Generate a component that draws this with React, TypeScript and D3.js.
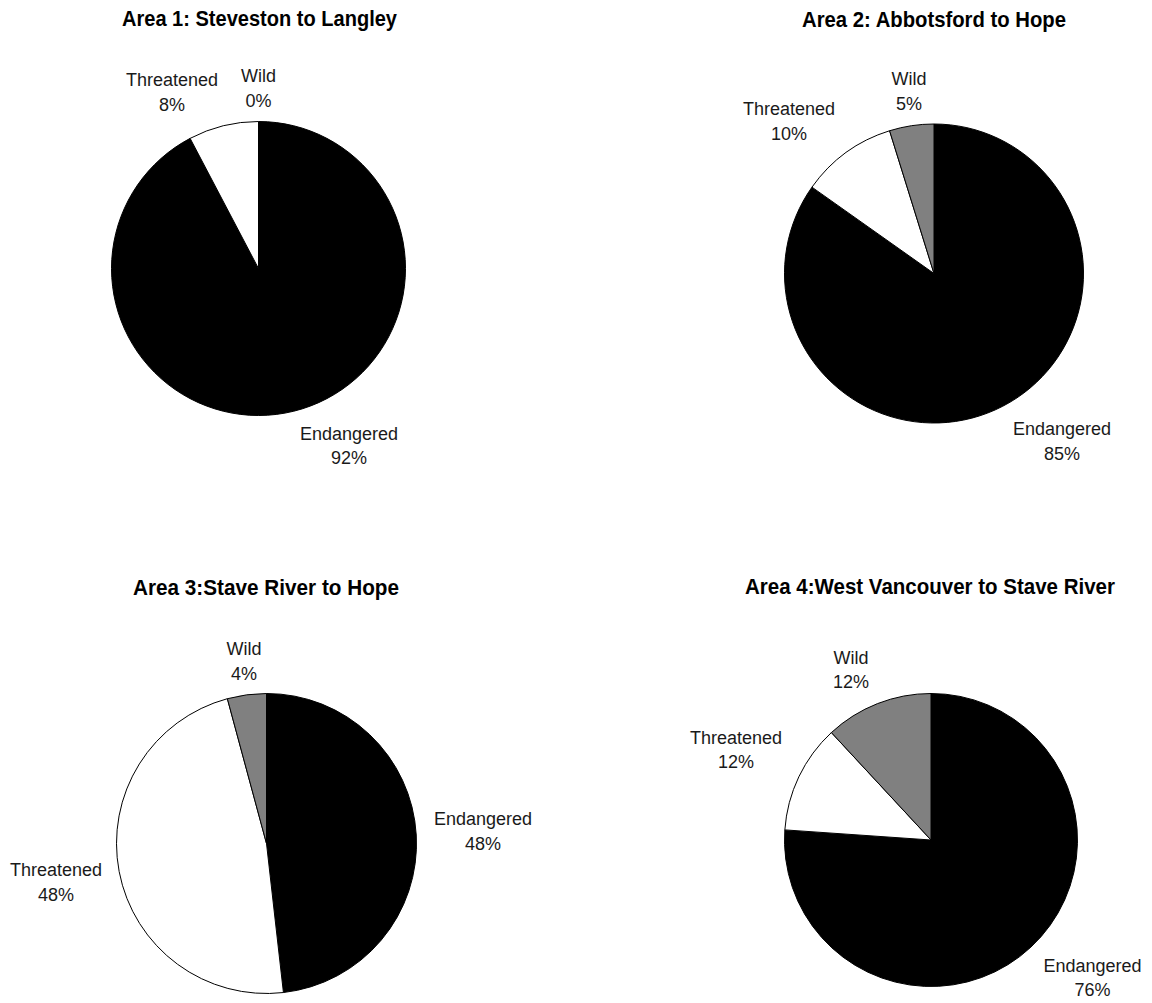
import React from "react";
import * as d3 from "d3";

// ---- Data ----
const categories = ["Endangered", "Threatened", "Wild"];
const titles = [
  "Area 1: Steveston to Langley",
  "Area 2: Abbotsford to Hope",
  "Area 3:Stave River to Hope",
  "Area 4:West Vancouver to Stave River",
];
const area1Values = [92.3, 7.7, 0];
const area2Values = [84.8, 10.4, 4.8];
const area3Values = [48.2, 47.6, 4.2];
const area4Values = [76.1, 12.0, 11.9];
const seriesValues = [area1Values, area2Values, area3Values, area4Values];

// ---- Styles / layout ----
const colors = ["#000000", "#ffffff", "#808080"];
const layout = [
  { cx: 258.5, cy: 268.5, r: 147, tx: 259.5, ty: 26, tw: 275,
    labels: [[349, 439.5], [172, 86], [258.5, 82]] },
  { cx: 934, cy: 273.5, r: 149.5, tx: 934, ty: 26.5, tw: 264,
    labels: [[1062, 435], [789, 115], [909, 85]] },
  { cx: 266.5, cy: 843.5, r: 150, tx: 266, ty: 595, tw: 266,
    labels: [[483, 825], [56, 876], [244, 655]] },
  { cx: 931, cy: 840, r: 146.5, tx: 930, ty: 593.5, tw: 370,
    labels: [[1092.5, 971.5], [736, 743.5], [851, 663.5]] },
];

const labelFont = "'Liberation Sans', Arial, sans-serif";
const titleFont = "'Liberation Sans Narrow', 'Arial Narrow', 'Liberation Sans', sans-serif";

export default function App() {
  const pie = d3
    .pie<number>()
    .sort(null)
    .value((d) => d)
    .startAngle(0)
    .endAngle(2 * Math.PI);

  return (
    <svg
      width={1152}
      height={1003}
      style={{ position: "absolute", left: 0, top: 0, background: "#fff" }}
    >
      {seriesValues.map((vals, i) => {
        const L = layout[i];
        const arc = d3.arc<d3.PieArcDatum<number>>().innerRadius(0).outerRadius(L.r);
        const arcs = pie(vals);
        const total = d3.sum(vals);
        return (
          <g key={i}>
            <text
              x={L.tx}
              y={L.ty}
              textAnchor="middle"
              fontFamily={titleFont}
              fontWeight="bold"
              fontSize={22}
              fill="#000"
              textLength={L.tw}
              lengthAdjust="spacingAndGlyphs"
            >
              {titles[i]}
            </text>
            <g transform={`translate(${L.cx},${L.cy})`}>
              {arcs.map((a, j) =>
                a.endAngle - a.startAngle > 0 ? (
                  <path
                    key={j}
                    d={arc(a) || ""}
                    fill={colors[j]}
                    stroke="#000"
                    strokeWidth={1}
                    strokeLinejoin="round"
                  />
                ) : null
              )}
            </g>
            {categories.map((c, j) => {
              const [lx, ly] = L.labels[j];
              const pct = Math.round((vals[j] / total) * 100);
              return (
                <text
                  key={c}
                  x={lx}
                  y={ly}
                  textAnchor="middle"
                  fontFamily={labelFont}
                  fontSize={18}
                  fill="#1a1a1a"
                >
                  <tspan x={lx}>{c}</tspan>
                  <tspan x={lx} dy={24.5}>{pct + "%"}</tspan>
                </text>
              );
            })}
          </g>
        );
      })}
    </svg>
  );
}
